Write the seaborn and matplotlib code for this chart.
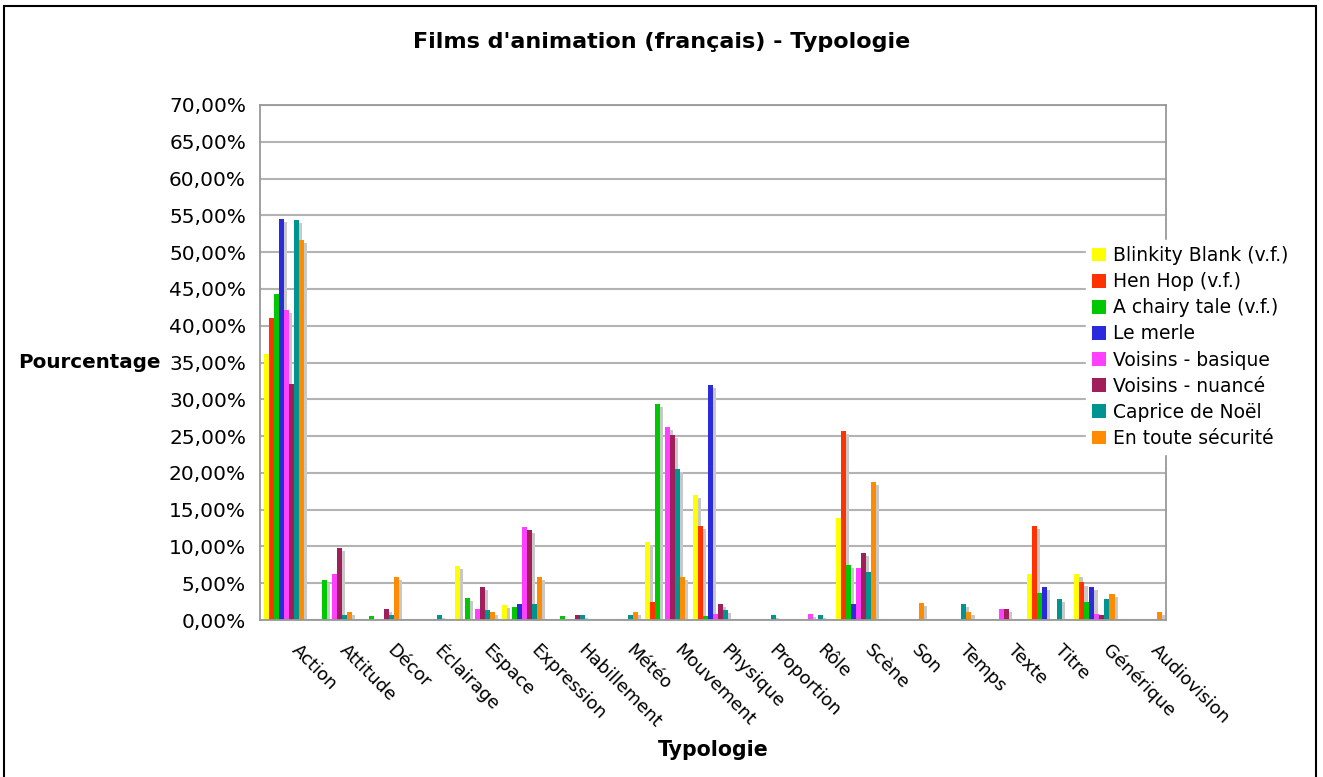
import numpy as np
import pandas as pd
import matplotlib
matplotlib.use("Agg")
import matplotlib.pyplot as plt
import seaborn as sns
from matplotlib import patheffects as pe
from matplotlib.patches import Patch, Rectangle
from matplotlib.ticker import FuncFormatter, FixedLocator
from matplotlib.transforms import ScaledTranslation

# ---- data (percentages) ----
categories = ["Action", "Attitude", "Décor", "Éclairage", "Espace", "Expression",
              "Habillement", "Météo", "Mouvement", "Physique", "Proportion", "Rôle",
              "Scène", "Son", "Temps", "Texte", "Titre", "Générique", "Audiovision"]

films = ["Blinkity Blank (v.f.)", "Hen Hop (v.f.)", "A chairy tale (v.f.)", "Le merle",
         "Voisins - basique", "Voisins - nuancé", "Caprice de Noël", "En toute sécurité"]

blinkity = [36.1, 0, 0, 0, 7.4, 2.0, 0, 0, 10.6, 17.0, 0, 0, 13.8, 0, 0, 0, 6.3, 6.3, 0]
hen_hop = [41.0, 0, 0, 0, 0, 0, 0, 0, 2.5, 12.8, 0, 0, 25.7, 0, 0, 0, 12.8, 5.1, 0]
chairy = [44.3, 5.5, 0.5, 0, 3.0, 1.8, 0.5, 0, 29.4, 0.5, 0, 0, 7.5, 0, 0, 0, 3.7, 2.5, 0]
merle = [54.5, 0, 0, 0, 0, 2.2, 0, 0, 0, 31.9, 0, 0, 2.2, 0, 0, 0, 4.5, 4.5, 0]
voisins_b = [42.1, 6.3, 0, 0, 1.5, 12.6, 0, 0, 26.2, 0.8, 0, 0.8, 7.1, 0, 0, 1.5, 0, 0.8, 0]
voisins_n = [32.1, 9.8, 1.5, 0, 4.5, 12.2, 0.7, 0, 25.2, 2.2, 0, 0, 9.1, 0, 0, 1.5, 0, 0.7, 0]
caprice = [54.4, 0.7, 0.7, 0.7, 1.4, 2.2, 0.7, 0.7, 20.5, 1.4, 0.7, 0.7, 6.5, 0, 2.2, 0, 2.9, 2.9, 0]
securite = [51.7, 1.1, 5.9, 0, 1.1, 5.9, 0, 1.1, 5.9, 0, 0, 0, 18.8, 2.3, 1.1, 0, 0, 3.5, 1.1]

colors = ["#ffff00", "#ff3300", "#00c800", "#2b2bdd",
          "#ff40ff", "#a01e5a", "#009491", "#ff8c00"]

series = [blinkity, hen_hop, chairy, merle, voisins_b, voisins_n, caprice, securite]
df = pd.concat(
    [pd.DataFrame({"Typologie": categories, "Pourcentage": vals, "Film": name})
     for name, vals in zip(films, series)],
    ignore_index=True,
)

W, H = 1323, 777

sns.set_style("white")
plt.rcParams["font.family"] = ["DejaVu Sans"]
plt.rcParams["text.color"] = "black"
plt.rcParams["xtick.labelcolor"] = "black"
plt.rcParams["ytick.labelcolor"] = "black"

fig = plt.figure(figsize=(W / 100, H / 100), dpi=100)
ax = fig.add_axes([260 / W, 1 - 620 / H, (1166 - 260) / W, (620 - 105) / H])

sns.barplot(data=df, x="Typologie", y="Pourcentage", hue="Film",
            palette=colors, saturation=1, width=0.84, linewidth=0,
            order=categories, hue_order=films, ax=ax, legend=False)

# grey drop shadow behind each bar
for bar in ax.patches:
    bar.set_path_effects([
        pe.SimplePatchShadow(offset=(2.2, -2.2), shadow_rgbFace="#c8c8c8", alpha=1.0),
        pe.Normal(),
    ])

ax.set_ylim(0, 70)
ax.set_xlim(-0.5, len(categories) - 0.5)
ax.set_yticks(np.arange(0, 70.1, 5))
ax.yaxis.set_major_formatter(FuncFormatter(lambda v, _: f"{v:.2f}%".replace(".", ",")))
ax.yaxis.grid(True, color="#b3b3b3", lw=1.5)
ax.set_axisbelow(True)
for s in ax.spines.values():
    s.set_color("#999999")
    s.set_linewidth(1.3)

ax.tick_params(axis="y", length=6, width=1.2, color="#999999", labelsize=14.5, pad=4)
ax.tick_params(axis="x", which="major", length=0, labelsize=13, pad=20)
ax.xaxis.set_minor_locator(FixedLocator(np.arange(-0.5, len(categories), 1)))
ax.tick_params(axis="x", which="minor", length=5, width=1.2, color="#999999")
shift = ScaledTranslation(11 / 100, 0, fig.dpi_scale_trans)
for lab in ax.get_xticklabels():
    lab.set_rotation(-45)
    lab.set_ha("left")
    lab.set_va("center")
    lab.set_rotation_mode("anchor")
    lab.set_transform(lab.get_transform() + shift)

ax.set_xlabel("")
ax.set_ylabel("")
fig.text(713 / W, 1 - 750 / H, "Typologie", ha="center", va="center",
         fontsize=14.8, fontweight="bold")
fig.text(18 / W, 1 - 362 / H, "Pourcentage", ha="left", va="center",
         fontsize=14.3, fontweight="bold")
fig.text(0.5, 1 - 42 / H, "Films d'animation (français) - Typologie",
         ha="center", va="center", fontsize=16, fontweight="bold")

handles = [Patch(facecolor=c, edgecolor="none") for c in colors]
leg = ax.legend(handles, films, loc="center left",
                bbox_to_anchor=(1086 / W, 1 - 347 / H), bbox_transform=fig.transFigure,
                fontsize=13.5, frameon=True, fancybox=False, framealpha=1,
                facecolor="white", edgecolor="white", borderaxespad=0,
                borderpad=0.3, handlelength=0.75, handleheight=0.75,
                handletextpad=0.4, labelspacing=0.38)
leg.set_zorder(10)

# outer frame of the figure
fig.patches.append(Rectangle((4 / W, -0.05), (1316 - 4) / W, 1.05 - 6 / H,
                             transform=fig.transFigure, fill=False,
                             edgecolor="black", lw=1.5))

fig.savefig("out.png", dpi=100)
